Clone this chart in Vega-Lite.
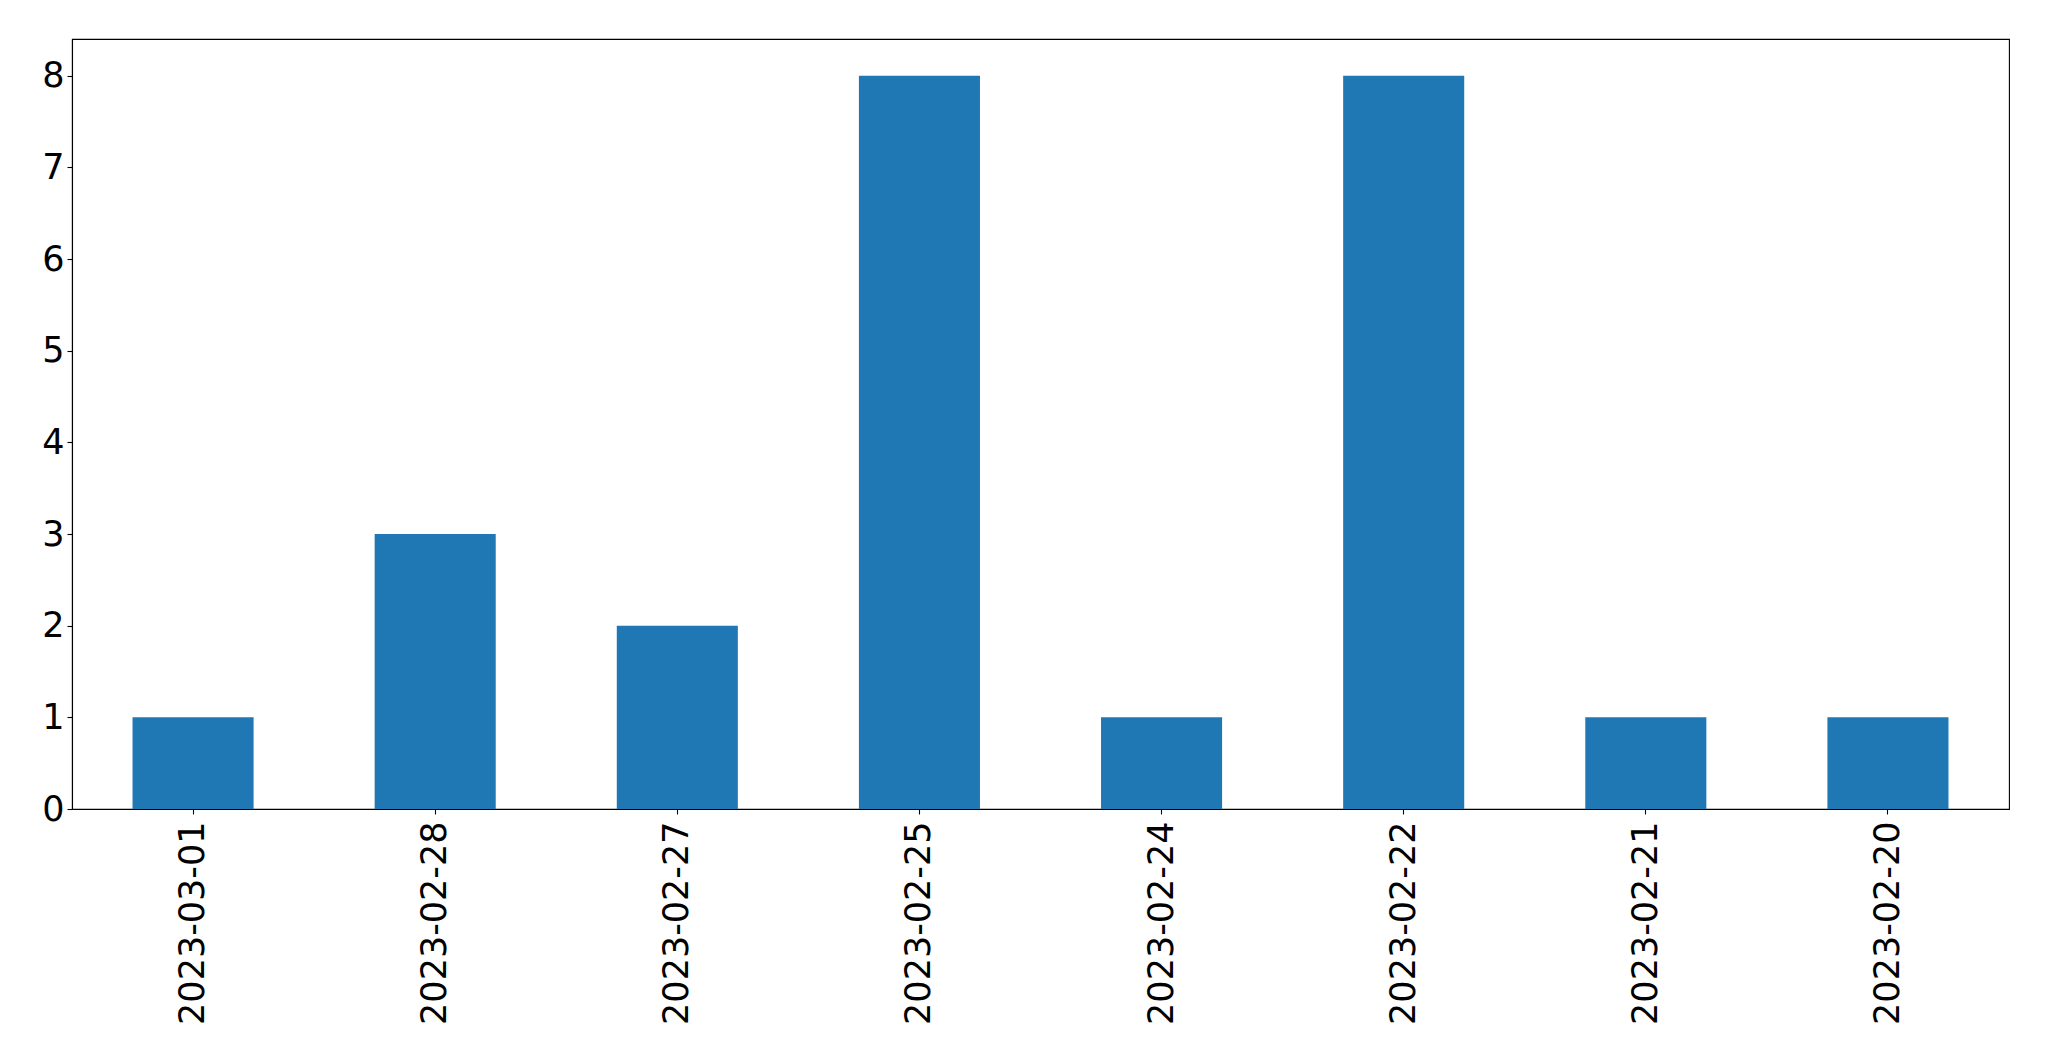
{
  "$schema": "https://vega.github.io/schema/vega-lite/v6.json",
  "autosize": "none",
  "width": 1937,
  "height": 770,
  "padding": {"left": 72, "top": 39, "right": 40, "bottom": 252},
  "background": "white",
  "config": {
    "view": {"stroke": "black", "strokeWidth": 1.1},
    "axis": {
      "labelFont": "DejaVu Sans",
      "labelFontSize": 35,
      "labelLimit": 0,
      "labelColor": "black",
      "tickColor": "black",
      "tickSize": 5,
      "tickWidth": 1.1,
      "domainColor": "black",
      "domainWidth": 1.1,
      "grid": false,
      "title": null
    }
  },
  "data": {
    "values": [
      {"date": "2023-03-01", "count": 1},
      {"date": "2023-02-28", "count": 3},
      {"date": "2023-02-27", "count": 2},
      {"date": "2023-02-25", "count": 8},
      {"date": "2023-02-24", "count": 1},
      {"date": "2023-02-22", "count": 8},
      {"date": "2023-02-21", "count": 1},
      {"date": "2023-02-20", "count": 1}
    ]
  },
  "mark": {"type": "bar", "color": "#1f77b4"},
  "encoding": {
    "x": {
      "field": "date",
      "type": "nominal",
      "sort": null,
      "scale": {"paddingInner": 0.5, "paddingOuter": 0.25},
      "axis": {"labelAngle": -90, "labelPadding": 7}
    },
    "y": {
      "field": "count",
      "type": "quantitative",
      "scale": {"domain": [0, 8.4], "nice": false},
      "axis": {"values": [0, 1, 2, 3, 4, 5, 6, 7, 8], "labelPadding": 3}
    }
  }
}
